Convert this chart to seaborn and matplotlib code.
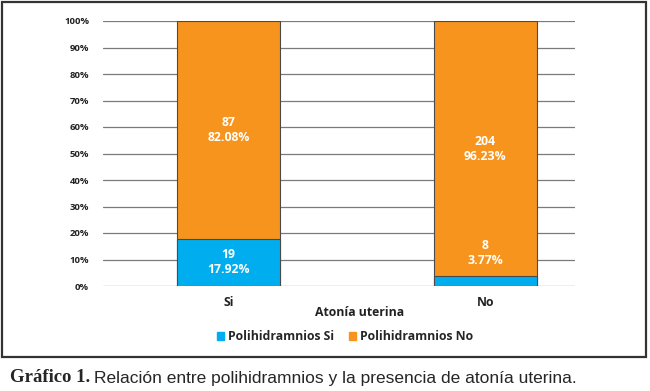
import matplotlib
matplotlib.use("Agg")
import matplotlib.pyplot as plt
import seaborn as sns
import pandas as pd
from matplotlib.patches import Rectangle, Patch

categories = ["Si", "No"]
poli_si_counts = [19, 8]
poli_no_counts = [87, 204]
poli_si_pct = [17.92, 3.77]
poli_no_pct = [82.08, 96.23]
yticks = list(range(0, 101, 10))
series_names = ["Polihidramnios Si", "Polihidramnios No"]
x_title = "Atonía uterina"

sns.set_style("white")
plt.rcParams["font.family"] = ["Open Sans", "DejaVu Sans"]

c_si = "#00AEEF"
c_no = "#F7941D"

df = pd.DataFrame({
    "cat": categories,
    "si": poli_si_pct,
    "no": poli_no_pct,
})
df["total"] = df["si"] + df["no"]

fig = plt.figure(figsize=(6.5, 3.91), dpi=100)
ax = fig.add_axes([103/650, 1-286/391, (575-103)/650, (286-21)/391])

sns.barplot(data=df, x="cat", y="total", color=c_no, width=0.4, ax=ax,
            edgecolor="#4a4a4a", linewidth=0.8, saturation=1, zorder=3)
sns.barplot(data=df, x="cat", y="si", color=c_si, width=0.4, ax=ax,
            edgecolor="#4a4a4a", linewidth=0.8, saturation=1, zorder=4)

ax.set_ylim(0, 100)
ax.set_xlim(-0.49, 1.35)
ax.set_yticks(yticks)
ax.set_yticklabels([f"{t}%" for t in yticks], fontsize=6.8, fontweight="bold", color="#222")
ax.tick_params(axis="y", length=0, pad=10)
ax.tick_params(axis="x", length=0, pad=7)
ax.set_xticklabels(categories, fontsize=8.8, fontweight="bold", color="#222")
for t in yticks:
    ax.axhline(t, color="#7a7a7a", lw=0.9, zorder=1)
for s in ax.spines.values():
    s.set_visible(False)
ax.set_xlabel("")
ax.set_ylabel("")

for i in range(len(categories)):
    si = poli_si_pct[i]
    no = poli_no_pct[i]
    y_si = si / 2 if si >= 10 else si + 8.5
    ax.text(i, y_si, f"{poli_si_counts[i]}\n{si:.2f}%", ha="center", va="center",
            color="white", fontsize=8.8, fontweight="bold", linespacing=1.2, zorder=5)
    ax.text(i, si + no / 2, f"{poli_no_counts[i]}\n{no:.2f}%", ha="center", va="center",
            color="white", fontsize=8.8, fontweight="bold", linespacing=1.2, zorder=5)

fig.text(360/650, 1-313/391, x_title, ha="center", va="center",
         fontsize=8.8, fontweight="bold", color="#222")

handles = [Patch(color=c_si), Patch(color=c_no)]
fig.legend(handles, series_names, loc="center", bbox_to_anchor=(345/650, 1-337/391),
           ncol=2, frameon=False, prop={"weight": "bold", "size": 8.8},
           handlelength=0.6, handleheight=0.6, handletextpad=0.3, columnspacing=1.2)

fig.patches.append(Rectangle((2/650, 1-357/391), 644/650, 355/391, transform=fig.transFigure,
                             fill=False, edgecolor="#333", lw=1.6))

t1 = fig.text(10/650, 1-378/391, "Gráfico 1.", ha="left", va="center", fontsize=13.5,
              fontweight="bold", family=["Liberation Serif", "DejaVu Serif"])
fig.canvas.draw()
bb = t1.get_window_extent()
fig.text((bb.x1 + 4)/650, 1-378/391, "Relación entre polihidramnios y la presencia de atonía uterina.",
         ha="left", va="center", fontsize=12.5,
         family=["Liberation Sans Narrow", "Liberation Sans", "DejaVu Sans"])

fig.savefig("out.png", dpi=100)
